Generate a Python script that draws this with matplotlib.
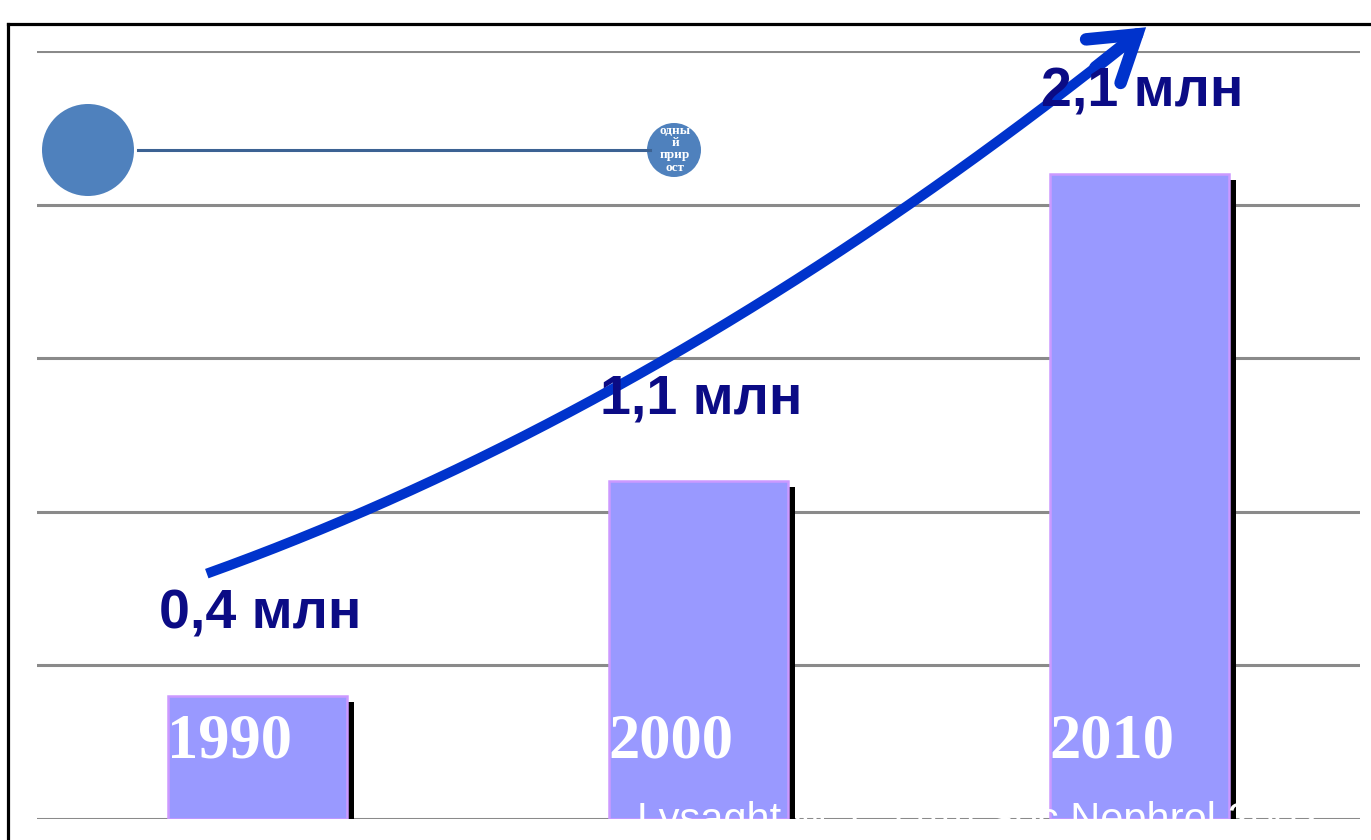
import numpy as np
import matplotlib
matplotlib.use("Agg")
import matplotlib.pyplot as plt
from matplotlib import patheffects
from matplotlib.patches import Circle
from matplotlib.lines import Line2D

# ── Data ──────────────────────────────────────────────────────────────────────

years = ["1990", "2000", "2010"]
patients_mln = [0.4, 1.1, 2.1]
legend_title = "Ежегодный\nприрост"
source_note = "Lysaght M.J. J Am Soc Nephrol 2002"

# ── Style ─────────────────────────────────────────────────────────────────────

BAR_FACE = "#9999FF"
BAR_EDGE = "#CC99FF"
ARROW_BLUE = "#0033CC"
LABEL_NAVY = "#0B0B85"
GRID_GREY = "#8A8A8A"
LEGEND_BLUE = "#4F81BD"

W, H, DPI = 1371, 840, 100

fig = plt.figure(figsize=(W / DPI, H / DPI), dpi=DPI)
fig.patch.set_facecolor("white")

# pixel-space overlay for the frame and the legend
ov = fig.add_axes([0, 0, 1, 1], zorder=0)
ov.set_xlim(0, W)
ov.set_ylim(H, 0)
ov.axis("off")

ov.add_line(Line2D([8, W], [24, 24], color="black", lw=2.3))
ov.add_line(Line2D([8, 8], [24, H], color="black", lw=2.3))

ov.add_patch(Circle((88, 150), 46, color=LEGEND_BLUE, lw=0))
ov.add_line(Line2D([138, 650], [150, 150], color="#3C6293", lw=2.2))
badge = Circle((674, 150), 27, color=LEGEND_BLUE, lw=0)
ov.add_patch(badge)
# wrap the caption into short chunks the way a narrow shape would
words = legend_title.split("\n")
chunks = [words[0][:4], words[0][4:8], words[0][8:], words[1][:4], words[1][4:]]
t = ov.text(675, 143, "\n".join(chunks), ha="center", va="center",
            color="white", fontsize=9.5, fontweight="bold",
            family="Liberation Serif", linespacing=1.05)
t.set_clip_path(badge)

# ── Chart ─────────────────────────────────────────────────────────────────────

ax = fig.add_axes([37 / W, 21 / H, 1323 / W, 768 / H], zorder=1)
ax.patch.set_visible(False)
ax.set_xlim(-0.5, 2.5)
ax.set_ylim(0, 2.5)
for s in ax.spines.values():
    s.set_visible(False)
ax.set_xticks([])
ax.set_yticks(np.arange(0, 2.51, 0.5))
ax.tick_params(left=False, labelleft=False)
ax.yaxis.grid(True, color=GRID_GREY, lw=2.2)
ax.set_axisbelow(True)

x = np.arange(len(years))
bars = ax.bar(x, patients_mln, width=0.405, color=BAR_FACE,
              edgecolor=BAR_EDGE, linewidth=1.8, zorder=2)
for b in bars:
    b.set_path_effects([
        patheffects.SimplePatchShadow(offset=(5.5, -4.5),
                                      shadow_rgbFace="black", alpha=1.0),
        patheffects.Normal(),
    ])

# year names inside the bars
for xi, yr in zip(x, years):
    ax.text(xi - 0.205, 0.25, yr, ha="left", va="center", color="white",
            fontsize=45, fontweight="bold", family="Liberation Serif",
            zorder=4)

# growth trend: smooth curve lifted above the bar tops, ending in an arrow
lift = 0.46
coef = np.polyfit(x, np.array(patients_mln) + lift, 2)
xs = np.linspace(-0.115, 1.93, 200)
ax.plot(xs, np.polyval(coef, xs), color=ARROW_BLUE, lw=7.2,
        solid_capstyle="butt", clip_on=False, zorder=3)
tip = 2.015
ax.annotate("", xy=(tip, np.polyval(coef, tip)),
            xytext=(1.9, np.polyval(coef, 1.9)),
            arrowprops=dict(arrowstyle="->,head_length=1.55,head_width=1.0",
                            color=ARROW_BLUE, lw=9, mutation_scale=20,
                            shrinkA=0, shrinkB=0, capstyle="round",
                            joinstyle="miter"),
            annotation_clip=False, zorder=3)

# value labels
for xi, v in zip(x, patients_mln):
    ax.text(xi + 0.005, v + 0.265, f"{v:.1f}".replace(".", ",") + " млн",
            ha="center", va="center", color=LABEL_NAVY, fontsize=40,
            fontweight="bold", family="Liberation Sans", zorder=5)

# source line, white on white except where it crosses the bars
ax.text(637, 832, source_note, transform=ov.transData, ha="left",
        va="baseline", color="white", fontsize=30, family="Liberation Sans",
        clip_on=False, zorder=6)

fig.savefig("out.png", dpi=DPI)
